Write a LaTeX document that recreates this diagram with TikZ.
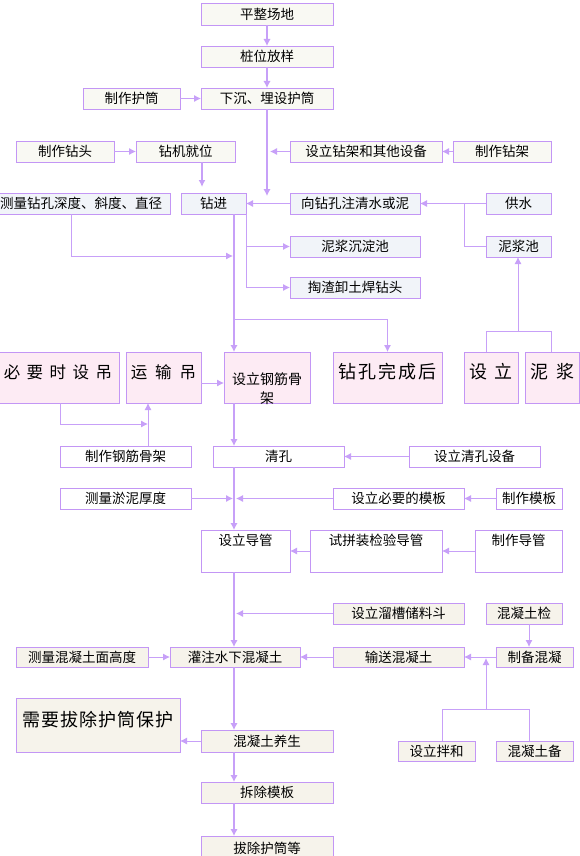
\documentclass[tikz,border=0pt]{standalone}
\usepackage{fontspec}
\setmainfont{Noto Sans CJK SC}
\usetikzlibrary{arrows.meta}
\definecolor{bcol}{HTML}{C396F5}
\definecolor{lcol}{HTML}{C7A0F8}
\definecolor{cream}{HTML}{F9F9F3}
\definecolor{bluef}{HTML}{F1F4F9}
\definecolor{pinkf}{HTML}{FDEBF4}
\definecolor{beige}{HTML}{F6F3EB}
\begin{document}
\begin{tikzpicture}[x=1pt,y=-1pt,
 bx/.style={draw=bcol,line width=0.9pt,inner sep=0pt,outer sep=0pt,font=\fontsize{13.5}{16}\selectfont},
 big/.style={inner sep=0pt,font=\fontsize{#1}{#1}\selectfont},
 ln/.style={draw=lcol,line width=0.9pt},
 ar/.style={ln,-{Latex[length=7pt,width=7pt]}},
 th/.style={draw=lcol,line width=2.4pt},
 tar/.style={th,-{Latex[length=7pt,width=7.5pt]}},
 mar/.style={draw=lcol,line width=1.8pt,-{Latex[length=7pt,width=7pt]}},
]
\useasboundingbox (0,0) rectangle (580,856);
\clip (0,0) rectangle (580,856);
\fill[white] (0,0) rectangle (580,856);

% boxes
\node[bx,fill=cream,minimum width=132pt,minimum height=22pt] (n1) at (267,14) {平整场地};
\node[bx,fill=cream,minimum width=132pt,minimum height=21pt] (n2) at (267,56.5) {桩位放样};
\node[bx,fill=cream,minimum width=97pt,minimum height=21pt] (hutong) at (131.5,98.5) {制作护筒};
\node[bx,fill=cream,minimum width=132pt,minimum height=21pt] (n3) at (267,98.5) {下沉、埋设护筒};
\node[bx,fill=cream,minimum width=98pt,minimum height=21pt] (zuantou) at (65,151.5) {制作钻头};
\node[bx,fill=cream,minimum width=99pt,minimum height=21pt] (jiwei) at (185.5,151.5) {钻机就位};
\node[bx,fill=cream,minimum width=152pt,minimum height=21pt] (zuanjia) at (366,151.5) {设立钻架和其他设备};
\node[bx,fill=cream,minimum width=98pt,minimum height=21pt] (zjia) at (502,151.5) {制作钻架};

\node[bx,fill=bluef,minimum width=178pt,minimum height=21pt] (celiang) at (81,203.5) {测量钻孔深度、斜度、直径};
\node[bx,fill=bluef,minimum width=65pt,minimum height=21pt] (zuanjin) at (213.5,203.5) {钻进};
\node[bx,fill=bluef,minimum width=130pt,minimum height=21pt] (zhushui) at (355,203.5) {向钻孔注清水或泥};
\node[bx,fill=bluef,minimum width=65pt,minimum height=21pt] (gongshui) at (518.5,203.5) {供水};
\node[bx,fill=bluef,minimum width=65pt,minimum height=21pt] (nijiangchi) at (518.5,246.5) {泥浆池};
\node[bx,fill=bluef,minimum width=130pt,minimum height=21pt] (chendian) at (355,246.5) {泥浆沉淀池};
\node[bx,fill=bluef,minimum width=130pt,minimum height=21pt] (taozha) at (355,287.5) {掏渣卸土焊钻头};

\node[bx,fill=pinkf,minimum width=123pt,minimum height=51pt] (biyao) at (57.5,377.5) {};
\node[big=16.5] at (58,372) {必\hspace{6.5pt}要\hspace{6.5pt}时\hspace{6.5pt}设\hspace{6.5pt}吊};
\node[bx,fill=pinkf,minimum width=75pt,minimum height=51pt] (yunshu) at (163.5,377.5) {};
\node[big=16.5] at (163.5,372) {运\hspace{8pt}输\hspace{8pt}吊};
\node[bx,fill=pinkf,minimum width=86pt,minimum height=51pt] (gangjin) at (267,377.5) {};
\node[inner sep=0pt,align=center,font=\fontsize{14}{19}\selectfont] at (267,389) {设立钢筋骨\\架};
\node[bx,fill=pinkf,minimum width=109pt,minimum height=51pt] (wancheng) at (387.5,377.5) {};
\node[big=18] at (387.5,372) {钻\hspace{2pt}孔\hspace{2pt}完\hspace{2pt}成\hspace{2pt}后};
\node[bx,fill=pinkf,minimum width=54pt,minimum height=51pt] (sheli) at (491,377.5) {};
\node[big=18] at (491,372) {设\hspace{8pt}立};
\node[bx,fill=pinkf,minimum width=54pt,minimum height=51pt] (nijiang) at (552,377.5) {};
\node[big=18] at (552,372) {泥\hspace{8pt}浆};

\node[bx,fill=white,minimum width=131pt,minimum height=21pt] (zhizuogj) at (125.5,456.5) {制作钢筋骨架};
\node[bx,fill=white,minimum width=131pt,minimum height=21pt] (qingkong) at (278.5,456.5) {清孔};
\node[bx,fill=white,minimum width=131pt,minimum height=21pt] (qksb) at (474.5,456.5) {设立清孔设备};
\node[bx,fill=white,minimum width=131pt,minimum height=21pt] (yuni) at (125.5,498.5) {测量淤泥厚度};
\node[bx,fill=white,minimum width=131pt,minimum height=21pt] (muban) at (398.5,498.5) {设立必要的模板};
\node[bx,fill=white,minimum width=66pt,minimum height=21pt] (zzmb) at (529,498.5) {制作模板};
\node[bx,fill=white,minimum width=89pt,minimum height=42pt] (daoguan) at (245.5,551) {};
\node[bx,draw=none,fill=none] at (245.5,540) {设立导管};
\node[bx,fill=white,minimum width=132pt,minimum height=42pt] (shipin) at (376,551) {};
\node[bx,draw=none,fill=none] at (376,540) {试拼装检验导管};
\node[bx,fill=white,minimum width=87pt,minimum height=42pt] (zzdg) at (518.5,551) {};
\node[bx,draw=none,fill=none] at (518.5,540) {制作导管};

\node[bx,fill=beige,minimum width=131pt,minimum height=21pt] (liucao) at (398.5,613.5) {设立溜槽储料斗};
\node[bx,fill=beige,minimum width=76pt,minimum height=21pt] (hntj) at (524,613.5) {混凝土检};
\node[bx,fill=beige,minimum width=132pt,minimum height=20pt] (gaodu) at (82,657) {测量混凝土面高度};
\node[bx,fill=beige,minimum width=130pt,minimum height=20pt] (guanzhu) at (235,657) {灌注水下混凝土};
\node[bx,fill=beige,minimum width=131pt,minimum height=20pt] (shusong) at (398.5,657) {输送混凝土};
\node[bx,fill=beige,minimum width=77pt,minimum height=20pt] (zhibei) at (534.5,657) {制备混凝};
\node[bx,fill=beige,minimum width=164pt,minimum height=54pt] (bachu) at (98,725) {};
\node[big=18] at (98,720) {需\hspace{1pt}要\hspace{1pt}拔\hspace{1pt}除\hspace{1pt}护\hspace{1pt}筒\hspace{1pt}保\hspace{1pt}护};
\node[bx,fill=beige,minimum width=132pt,minimum height=22pt] (yangsheng) at (267,741) {混凝土养生};
\node[bx,fill=beige,minimum width=77pt,minimum height=20pt] (banhe) at (436.5,751) {设立拌和};
\node[bx,fill=beige,minimum width=77pt,minimum height=20pt] (hntb) at (534.5,751) {混凝土备};
\node[bx,fill=beige,minimum width=132pt,minimum height=21pt] (chaichu) at (267,792.5) {拆除模板};
\node[bx,fill=beige,minimum width=132pt,minimum height=24pt] (bachu2) at (267,848) {拔除护筒等};

% coordinates
\coordinate (m1) at (267,196);
\coordinate (m2) at (270,151.5);
\coordinate (m3) at (202,187);
\coordinate (c1) at (71,0);
\coordinate (c2) at (233,256);
\coordinate (gx) at (234,0);
\coordinate (br) at (234,319);
\coordinate (j1) at (464,203.5);
\coordinate (s1) at (518,331);
\coordinate (s2) at (486,331);
\coordinate (s3) at (551,331);
\coordinate (y1) at (0,383);
\coordinate (k1) at (60,424);
\coordinate (k2) at (148,424);
\coordinate (u1) at (233,498.5);
\coordinate (u2) at (236,498.5);
\coordinate (v1) at (236,613.5);
\coordinate (v2) at (529,0);
\coordinate (w1) at (486,658);
\coordinate (w2) at (486,709);
\coordinate (w3) at (442,709);
\coordinate (w4) at (529,709);

% connectors
\draw[tar] (n1.south) -- (n2.north);
\draw[tar] (n2.south) -- (n3.north);
\draw[ar] (hutong.east) -- (n3.west);
\draw[tar] (n3.south) -- (m1);
\draw[ar] (zuanjia.west) -- (m2);
\draw[ar] (zjia.west) -- (zuanjia.east);
\draw[ar] (zuantou.east) -- (jiwei.west);
\draw[mar] (jiwei.south -| m3) -- (m3);
\draw[ar] (zhushui.west) -- (zuanjin.east);
\draw[ar] (gongshui.west) -- (zhushui.east);
\draw[ln] (nijiangchi.west) -| (j1);
\draw[ar] (zuanjin.south east) |- (chendian.west);
\draw[ar] (zuanjin.south east) |- (taozha.west);
\draw[ar] (celiang.south -| c1) |- (c2);
\draw[tar] (zuanjin.south -| gx) -- (gangjin.north -| gx);
\draw[ar] (br) -| (wancheng.north);
\draw[ar] (s1) -- (nijiangchi.south -| s1);
\draw[ln] (sheli.north -| s2) -- (s2) -- (s3) -- (nijiang.north -| s3);
\draw[ar] (yunshu.east |- y1) -- (gangjin.west |- y1);
\draw[ar] (biyao.south -| k1) -- (k1) -- (k2);
\draw[ar] (zhizuogj.north -| k2) -- (yunshu.south -| k2);
\draw[tar] (gangjin.south -| gx) -- (qingkong.north -| gx);
\draw[ar] (qksb.west) -- (qingkong.east);
\draw[tar] (qingkong.south -| gx) -- (daoguan.north -| gx);
\draw[ar] (yuni.east) -- (u1);
\draw[ar] (muban.west) -- (u2);
\draw[ar] (zzmb.west) -- (muban.east);
\draw[ar] (shipin.west) -- (daoguan.east);
\draw[ar] (zzdg.west) -- (shipin.east);
\draw[tar] (daoguan.south -| gx) -- (guanzhu.north -| gx);
\draw[ar] (liucao.west) -- (v1);
\draw[ar] (hntj.south -| v2) -- (zhibei.north -| v2);
\draw[ar] (gaodu.east) -- (guanzhu.west);
\draw[ar] (shusong.west) -- (guanzhu.east);
\draw[ar] (zhibei.west) -- (shusong.east);
\draw[ar] (w2) -- (w1);
\draw[ln] (banhe.north -| w3) -- (w3) -- (w4) -- (hntb.north -| w4);
\draw[tar] (guanzhu.south -| gx) -- (yangsheng.north -| gx);
\draw[ar] (yangsheng.west) -- (bachu.east |- yangsheng.west);
\draw[tar] (yangsheng.south -| gx) -- (chaichu.north -| gx);
\draw[tar] (chaichu.south -| gx) -- (bachu2.north -| gx);
\end{tikzpicture}
\end{document}
